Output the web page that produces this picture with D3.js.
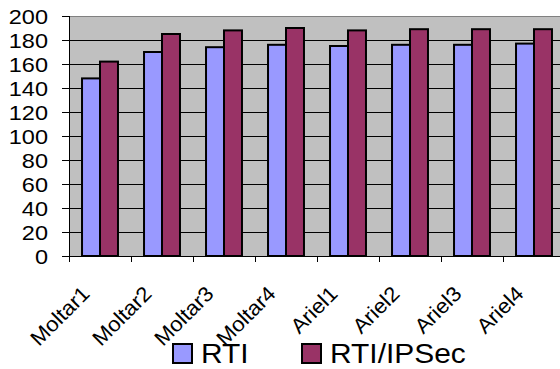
<!DOCTYPE html>
<html>
<head>
<meta charset="utf-8">
<script src="https://cdn.jsdelivr.net/npm/d3@7"></script>
<style>
  body { margin: 0; background: #fff; overflow: hidden; }
  text { font-family: "Liberation Sans", Arial, sans-serif; fill: #000; }
</style>
</head>
<body>
<div id="wrapper"></div>
<script>
const categories = ["Moltar1", "Moltar2", "Moltar3", "Moltar4", "Ariel1", "Ariel2", "Ariel3", "Ariel4"];
const seriesNames = ["RTI", "RTI/IPSec"];
const rtiValues = [148, 170, 174, 176, 175, 176, 176, 177];
const ipsecValues = [162, 185, 188, 190, 188, 189, 189, 189];
const yTicks = [0, 20, 40, 60, 80, 100, 120, 140, 160, 180, 200];
const colors = ["#9999FF", "#993366"];

const dimensions = {
    width: 560,
    height: 369,
    margin: { top: 16, left: 69 },
    boundedWidth: 496,
    boundedHeight: 240,
};

const wrapper = d3.select("#wrapper")
    .append("svg")
    .attr("width", dimensions.width)
    .attr("height", dimensions.height)

const bounds = wrapper.append("g")
    .attr("transform", `translate(${dimensions.margin.left},${dimensions.margin.top})`)

const xScale = d3.scaleBand()
    .domain(categories)
    .range([0, dimensions.boundedWidth])
    .paddingInner(0.42)
    .paddingOuter(0.21)

const subScale = d3.scaleBand()
    .domain(seriesNames)
    .range([0, xScale.bandwidth()])

const yScale = d3.scaleLinear()
    .domain([0, 200])
    .range([dimensions.boundedHeight, 0])

// plot background
bounds.append("rect")
    .attr("width", dimensions.boundedWidth)
    .attr("height", dimensions.boundedHeight)
    .attr("fill", "#C0C0C0")

// gridlines
bounds.append("g")
    .selectAll("line")
    .data(yTicks.filter(d => d > 0))
    .join("line")
    .attr("x1", 0)
    .attr("x2", dimensions.boundedWidth)
    .attr("y1", d => yScale(d) + 0.5)
    .attr("y2", d => yScale(d) + 0.5)
    .attr("stroke", d => d == 200 ? "#808080" : "#000")
    .attr("stroke-width", 1)

// bars
const rows = categories.map((c, i) => ({ cat: c, values: [rtiValues[i], ipsecValues[i]] }))

bounds.append("g")
    .selectAll("g")
    .data(rows)
    .join("g")
    .attr("transform", d => `translate(${xScale(d.cat)},0)`)
    .selectAll("rect")
    .data(d => d.values.map((v, j) => ({ name: seriesNames[j], value: v, j: j })))
    .join("rect")
    .attr("x", d => subScale(d.name))
    .attr("y", d => yScale(d.value))
    .attr("width", subScale.bandwidth())
    .attr("height", d => dimensions.boundedHeight - yScale(d.value))
    .attr("fill", d => colors[d.j])
    .attr("stroke", "#000")
    .attr("stroke-width", 2)

// y axis
const yAxis = bounds.append("g")
yAxis.append("line")
    .attr("x1", 0.5).attr("x2", 0.5)
    .attr("y1", 0).attr("y2", dimensions.boundedHeight)
    .attr("stroke", "#000")
yAxis.selectAll("line.tick")
    .data(yTicks)
    .join("line")
    .attr("class", "tick")
    .attr("x1", -7).attr("x2", 0)
    .attr("y1", d => yScale(d) + 0.5)
    .attr("y2", d => yScale(d) + 0.5)
    .attr("stroke", "#000")
yAxis.selectAll("text")
    .data(yTicks)
    .join("text")
    .attr("transform", d => `translate(-21,${yScale(d) + 7.5}) scale(1.12,1)`)
    .attr("text-anchor", "end")
    .style("font-size", "21px")
    .text(d => d)

// x axis
const xAxis = bounds.append("g")
    .attr("transform", `translate(0,${dimensions.boundedHeight})`)
xAxis.append("line")
    .attr("x1", 0).attr("x2", dimensions.boundedWidth)
    .attr("y1", 0.5).attr("y2", 0.5)
    .attr("stroke", "#000")
xAxis.selectAll("line.tick")
    .data(d3.range(categories.length + 1))
    .join("line")
    .attr("class", "tick")
    .attr("x1", d => d * xScale.step() + 0.5)
    .attr("x2", d => d * xScale.step() + 0.5)
    .attr("y1", 0).attr("y2", 6)
    .attr("stroke", "#000")
xAxis.selectAll("text")
    .data(categories)
    .join("text")
    .attr("transform", d => `translate(${xScale(d) + xScale.bandwidth() / 2 - 9},39) rotate(-45) scale(1.05,1)`)
    .attr("text-anchor", "end")
    .style("font-size", "21px")
    .text(d => d)

// legend
const legend = wrapper.append("g")
const legendX = [172, 301]
seriesNames.forEach((name, i) => {
    legend.append("rect")
        .attr("x", legendX[i] + 1)
        .attr("y", 344)
        .attr("width", 19)
        .attr("height", 19)
        .attr("fill", colors[i])
        .attr("stroke", "#000")
        .attr("stroke-width", 2)
    legend.append("text")
        .attr("transform", `translate(${legendX[i] + 29},363) scale(1.05,1)`)
        .style("font-size", "28.5px")
        .text(name)
})
</script>
</body>
</html>
